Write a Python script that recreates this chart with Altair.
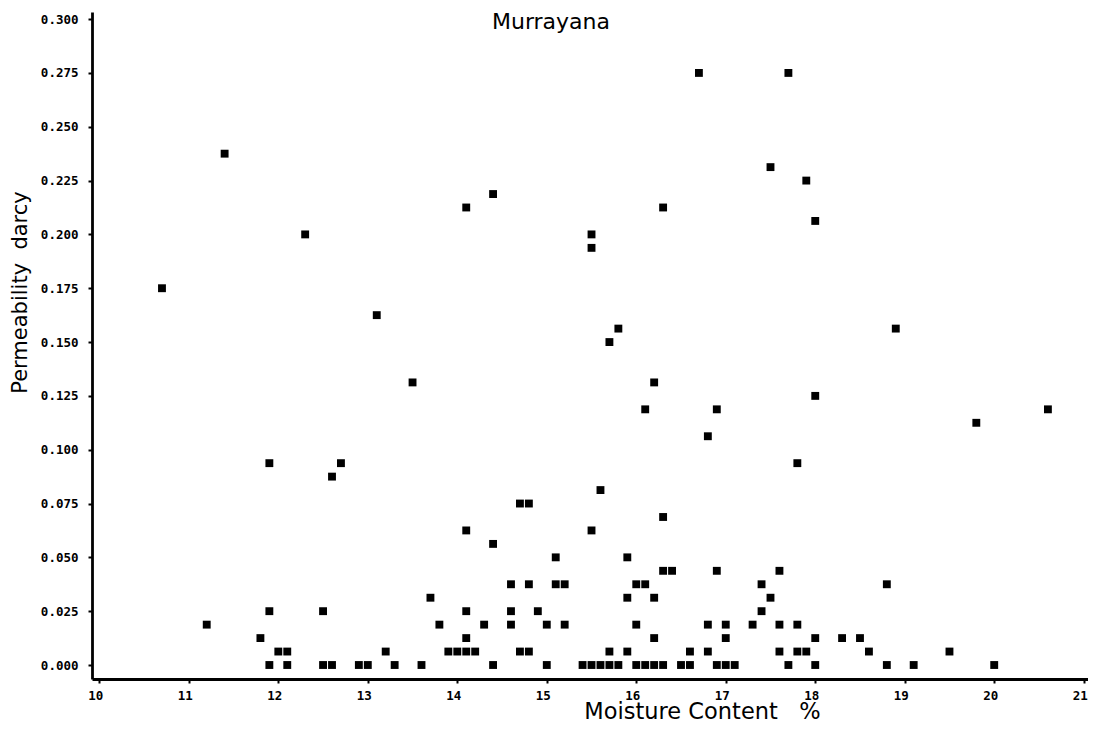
import altair as alt
import pandas as pd

# Moisture content (%) and permeability (darcy)
moisture = [
    # 0.000 row
    11.9, 12.1, 12.5, 12.6, 12.9, 13.0, 13.3, 13.6, 14.4, 15.0, 15.4, 15.5, 15.6, 15.7, 15.8,
    16.0, 16.1, 16.2, 16.3, 16.5, 16.6, 16.9, 17.0, 17.1, 17.7, 18.0, 18.8, 19.1, 20.0,
    # 0.00625 row
    12.0, 12.1, 13.2, 13.9, 14.0, 14.1, 14.2, 14.7, 14.8, 15.7, 15.9, 16.6, 16.8, 17.6, 17.8,
    17.9, 18.6, 19.5,
    # 0.0125 row
    11.8, 14.1, 16.2, 17.0, 18.0, 18.3, 18.5,
    # 0.01875 row
    11.2, 13.8, 14.3, 14.6, 15.0, 15.2, 16.0, 16.8, 17.0, 17.3, 17.6, 17.8,
    # 0.025 row
    11.9, 12.5, 14.1, 14.6, 14.9, 17.4,
    # 0.03125 row
    13.7, 15.9, 16.2, 17.5,
    # 0.0375 row
    14.6, 14.8, 15.1, 15.2, 16.0, 16.1, 17.4, 18.8,
    # 0.04375 row
    16.3, 16.4, 16.9, 17.6,
    # higher values
    15.1, 15.9, 14.4, 14.1, 15.5, 16.3, 14.7, 14.8, 15.6, 12.6, 11.9, 12.7, 17.8,
    16.8, 19.8, 16.1, 16.9, 20.6, 18.0, 13.5, 16.2, 15.7, 15.8, 18.9, 13.1, 10.7,
    15.5, 12.3, 15.5, 18.0, 14.1, 16.3, 14.4, 17.9, 17.5, 11.4, 16.7, 17.7,
]

permeability = (
    [0.0] * 29
    + [0.00625] * 18
    + [0.0125] * 7
    + [0.01875] * 12
    + [0.025] * 6
    + [0.03125] * 4
    + [0.0375] * 8
    + [0.04375] * 4
    + [0.05, 0.05, 0.05625, 0.0625, 0.0625, 0.06875, 0.075, 0.075, 0.08125, 0.0875,
       0.09375, 0.09375, 0.09375, 0.10625, 0.1125, 0.11875, 0.11875, 0.11875, 0.125,
       0.13125, 0.13125, 0.15, 0.15625, 0.15625, 0.1625, 0.175, 0.19375, 0.2, 0.2,
       0.20625, 0.2125, 0.2125, 0.21875, 0.225, 0.23125, 0.2375, 0.275, 0.275]
)

x_ticks = list(range(10, 22))
y_ticks = [i * 0.025 for i in range(13)]
chart_title = ["Murrayana"]

df = pd.DataFrame({"moisture": moisture, "permeability": permeability})
title_df = pd.DataFrame({"label": chart_title})

points = alt.Chart(df).mark_square(size=62, color="black", opacity=1).encode(
    x=alt.X(
        "moisture:Q",
        scale=alt.Scale(domain=[9.918, 21.048], nice=False, zero=False),
        axis=alt.Axis(
            values=x_ticks,
            format="d",
            title="Moisture Content\u00a0\u00a0\u00a0%",
            titleX=610,
            titleY=39,
            titleAlign="center",
            titleBaseline="alphabetic",
            titleFontSize=22.5,
            labelPadding=6,
            labelOffset=-4,
        ),
    ),
    y=alt.Y(
        "permeability:Q",
        scale=alt.Scale(domain=[-0.0065, 0.3033], nice=False, zero=False),
        axis=alt.Axis(
            values=y_ticks,
            format=".3f",
            title="Permeability\u00a0\u00a0darcy",
            titleX=-72,
            titleY=280,
            titleAlign="center",
            titleBaseline="middle",
            titleFontSize=21,
            labelPadding=10,
        ),
    ),
)

title = alt.Chart(title_df).mark_text(
    font="DejaVu Sans", fontSize=22, align="center", baseline="middle", color="black"
).encode(x=alt.value(459), y=alt.value(10), text="label:N")

chart = (
    alt.layer(points, title)
    .properties(
        width=996,
        height=667,
        autosize=alt.AutoSizeParams(type="none"),
        padding={"left": 84, "top": 4, "right": 0, "bottom": 42},
        background="white",
    )
    .configure_view(stroke=None)
    .configure_axis(
        grid=False,
        domainColor="black",
        domainWidth=2.8,
        tickColor="black",
        tickWidth=2,
        tickSize=4,
        labelFont="DejaVu Sans Mono",
        labelFontWeight="bold",
        labelFontSize=12.5,
        labelColor="black",
        titleFont="DejaVu Sans",
        titleFontWeight="normal",
        titleColor="black",
    )
)

chart.save("out.html", embed_options={"renderer": "svg", "actions": False})
